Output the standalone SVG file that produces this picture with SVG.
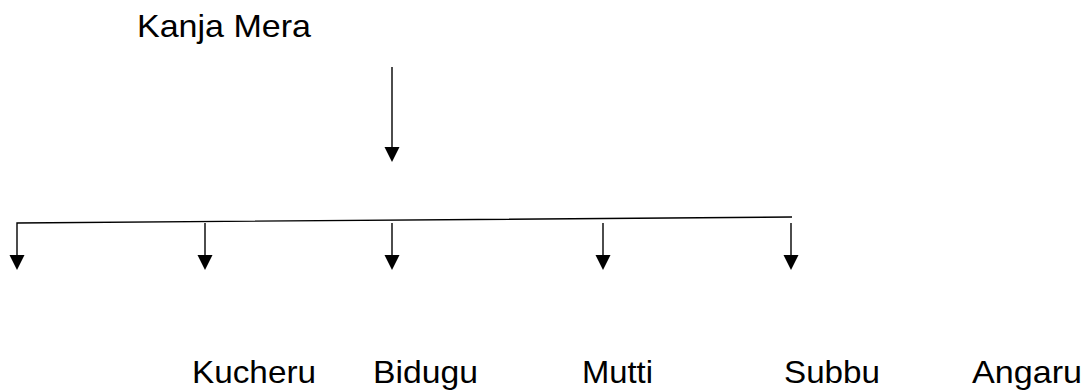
<svg xmlns="http://www.w3.org/2000/svg" width="1084" height="390" viewBox="0 0 1084 390">
  <style>
    .lbl { font-family: "Liberation Sans", Arial, sans-serif; font-size: 32px; fill: #000; }
    .ln { stroke: #000; stroke-width: 1.4; fill: none; }
  </style>
  <defs>
    <path id="head" d="M-7.5,0 L7.5,0 L0,15 Z" fill="#000"/>
  </defs>
  <rect width="1084" height="390" fill="#fff"/>
  <g id="connectors">
    <line class="ln" x1="392" y1="67" x2="392" y2="148"/>
    <use href="#head" x="392" y="147"/>
    <polyline class="ln" points="17,256 17,223 792,217"/>
    <use href="#head" x="17" y="255"/>
    <line class="ln" x1="205" y1="223" x2="205" y2="256"/>
    <use href="#head" x="205" y="255"/>
    <line class="ln" x1="392" y1="223" x2="392" y2="256"/>
    <use href="#head" x="392" y="255"/>
    <line class="ln" x1="603" y1="223" x2="603" y2="256"/>
    <use href="#head" x="603" y="255"/>
    <line class="ln" x1="791" y1="223" x2="791" y2="256"/>
    <use href="#head" x="791" y="255"/>
  </g>
  <g id="node-kanja-mera"><text class="lbl" x="137" y="37" textLength="174" lengthAdjust="spacingAndGlyphs">Kanja Mera</text></g>
  <g id="node-kucheru"><text class="lbl" x="192" y="383" textLength="124" lengthAdjust="spacingAndGlyphs">Kucheru</text></g>
  <g id="node-bidugu"><text class="lbl" x="373" y="383" textLength="105" lengthAdjust="spacingAndGlyphs">Bidugu</text></g>
  <g id="node-mutti"><text class="lbl" x="582" y="383" textLength="71" lengthAdjust="spacingAndGlyphs">Mutti</text></g>
  <g id="node-subbu"><text class="lbl" x="784" y="383" textLength="96" lengthAdjust="spacingAndGlyphs">Subbu</text></g>
  <g id="node-angaru"><text class="lbl" x="972" y="383" textLength="110" lengthAdjust="spacingAndGlyphs">Angaru</text></g>
</svg>
